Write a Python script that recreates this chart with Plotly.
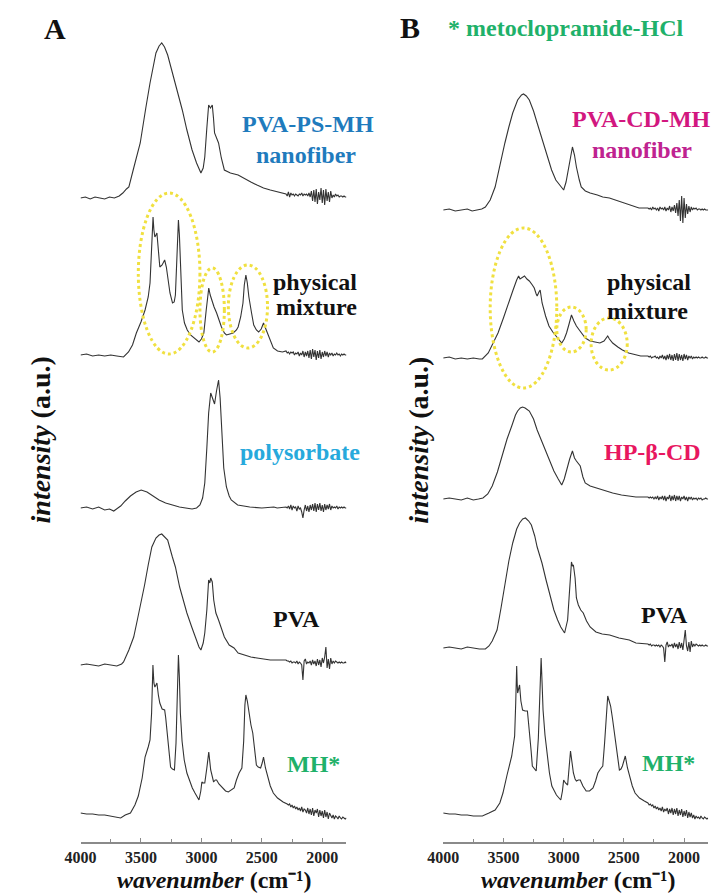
import plotly.graph_objects as go

# ---------------------------------------------------------------------------
# FTIR spectra (wavenumber in cm-1, intensity in arbitrary units above baseline)
# ---------------------------------------------------------------------------

# shared wavenumber grid for the noisy low-wavenumber tail
TAIL_WN = [2300, 2290, 2280, 2270, 2260, 2250, 2240, 2230, 2220, 2210,
           2200, 2190, 2180, 2170, 2160, 2150, 2140, 2130, 2120, 2110,
           2100, 2090, 2080, 2070, 2060, 2050, 2040, 2030, 2020, 2010,
           2000, 1990, 1980, 1970, 1960, 1950, 1940, 1930, 1920, 1910,
           1900, 1890, 1880, 1870, 1860, 1850, 1840, 1830, 1820, 1810, 1800]

# ---- Panel A -------------------------------------------------------------
A_NANOFIBER_WN = [4000, 3960, 3920, 3880, 3840, 3800, 3760, 3720, 3680, 3650, 3620, 3600, 3560,
                  3506, 3460, 3425, 3376, 3350, 3328, 3305, 3279, 3250, 3215, 3185, 3158, 3120,
                  3077, 3040, 3004, 2985, 2972, 2955, 2940, 2925, 2910, 2900, 2891, 2858, 2835,
                  2810, 2760, 2696, 2640, 2591, 2540, 2486, 2430, 2373, 2330]
A_NANOFIBER_I = [0, 1, -1, 1, 0, -1, 1, 0, 2, 5, 9, 11, 30,
                 55, 90, 115, 145, 152, 155, 151, 143, 130, 115, 102, 88, 68,
                 48, 35, 25, 30, 41, 70, 93, 90, 93, 80, 65, 55, 40,
                 28, 25, 23, 19, 16, 13, 10, 8, 6, 5]
A_NANOFIBER_TAIL = [4, 2, 6, 1, 5, 3, 4, 2, 4, 3, 2, 4, 3, 5, 2, 4, 3, 4, 2, 5,
                    1, 7, -3, 8, -4, 9, -6, 6, -2, 10, -5, 8, -7, 9, -3, 6, -4, 7, 0, 3,
                    1, 4, 2, 3, 1, 2, 2, 1, 2, 1, 1]

A_MIXTURE_WN = [4000, 3950, 3900, 3850, 3800, 3750, 3700, 3644, 3603, 3570, 3538, 3500, 3466,
                3440, 3425, 3410, 3400, 3393, 3385, 3376, 3368, 3356, 3344, 3325, 3304, 3290,
                3279, 3260, 3239, 3225, 3215, 3203, 3190, 3182, 3174, 3165, 3158, 3140, 3117,
                3090, 3061, 3020, 3000, 2980, 2960, 2945, 2939, 2927, 2915, 2895, 2874, 2850,
                2834, 2810, 2793, 2765, 2737, 2710, 2696, 2675, 2656, 2645, 2632, 2620, 2607,
                2585, 2567, 2545, 2526, 2505, 2486, 2470, 2453, 2430, 2405, 2370, 2330]
A_MIXTURE_I = [0, 1, -1, 0, -1, 0, -1, -2, 3, 10, 22, 33, 45,
               58, 72, 105, 138, 125, 118, 120, 122, 105, 88, 90, 95, 88,
               78, 62, 52, 53, 60, 100, 135, 120, 100, 70, 45, 32, 25,
               20, 17, 13, 16, 22, 45, 62, 67, 60, 55, 48, 42, 33,
               28, 22, 20, 21, 22, 25, 28, 38, 52, 70, 80, 72, 58,
               42, 30, 25, 23, 26, 32, 27, 22, 14, 7, 4, 3]
A_MIXTURE_TAIL = [4, 2, 3, 1, 3, 2, 3, 0, 2, 1, 3, -1, 2, 0, 4, -2, 3, -1, 4, -3,
                  5, -4, 6, -2, 5, -5, 4, -3, 5, -4, 3, -2, 4, -1, 3, -2, 2, 0, 2, -1,
                  1, 0, 2, 0, 1, -1, 1, 0, 1, 0, 0]

A_POLYSORBATE_WN = [4000, 3950, 3900, 3850, 3800, 3760, 3725, 3700, 3668, 3630, 3587, 3540, 3498,
                    3450, 3401, 3350, 3296, 3240, 3182, 3130, 3077, 3040, 3012, 2990, 2972, 2955,
                    2940, 2923, 2910, 2891, 2875, 2858, 2845, 2830, 2815, 2793, 2770, 2753, 2700,
                    2650, 2600, 2500, 2400, 2373, 2330]
A_POLYSORBATE_I = [0, 1, -1, 1, -2, -1, -3, -1, 2, 7, 12, 16, 18,
                   16, 12, 8, 5, 3, 1, 0, -1, 0, 3, 10, 25, 60,
                   95, 115, 110, 104, 117, 128, 110, 70, 40, 21, 12, 8, 3,
                   2, 1, 0, 1, 0, 1]
A_POLYSORBATE_TAIL = [1, 0, 2, -1, 3, -2, 2, 0, 1, -3, 2, -1, 0, -4, -10, -2, 3, -3, 2, -4,
                      3, -2, 4, -3, 5, -4, 4, -2, 5, -3, 3, -4, 4, -2, 3, -1, 4, -2, 2, 0,
                      1, 0, 2, -1, 1, 0, 1, 0, 1, 0, 0]

A_PVA_WN = [4000, 3950, 3900, 3850, 3800, 3750, 3700, 3660, 3644, 3600, 3560, 3530, 3506,
            3470, 3440, 3410, 3376, 3350, 3328, 3300, 3279, 3240, 3215, 3180, 3150, 3120,
            3080, 3050, 3020, 3004, 2985, 2972, 2955, 2940, 2930, 2923, 2910, 2898, 2880,
            2858, 2830, 2810, 2770, 2730, 2696, 2640, 2591, 2540, 2486, 2430, 2373, 2330]
A_PVA_I = [0, 1, 0, -1, 1, 0, -1, 1, 3, 15, 28, 45, 58,
           80, 100, 118, 127, 130, 131, 128, 125, 108, 98, 78, 65, 52,
           38, 28, 18, 15, 22, 32, 55, 85, 82, 87, 83, 65, 52,
           45, 35, 28, 20, 17, 12, 10, 8, 7, 6, 5, 5, 5]
A_PVA_TAIL = [5, 4, 4, 3, 4, 2, 3, 3, 2, 4, 1, 3, 2, 0, -15, 4, 6, 1, 3, 2,
              4, 0, 5, 1, 4, -1, 6, 0, 5, -2, 7, 2, 8, 18, -3, 6, -4, 7, 1, 4,
              2, 4, 3, 2, 3, 2, 3, 2, 2, 3, 2]

A_MH_WN = [4000, 3950, 3900, 3850, 3800, 3750, 3700, 3668, 3630, 3587, 3550, 3522, 3490,
           3466, 3440, 3425, 3412, 3401, 3393, 3385, 3376, 3368, 3356, 3344, 3325, 3304,
           3295, 3287, 3270, 3255, 3240, 3223, 3210, 3200, 3190, 3182, 3174, 3160, 3142,
           3120, 3101, 3075, 3053, 3020, 3005, 2996, 2985, 2972, 2955, 2939, 2923, 2910,
           2899, 2885, 2874, 2855, 2834, 2800, 2777, 2750, 2729, 2710, 2688, 2665, 2650,
           2640, 2632, 2620, 2607, 2590, 2575, 2560, 2545, 2530, 2510, 2497, 2486, 2470,
           2453, 2430, 2405, 2370, 2324]
A_MH_I = [0, -1, -1, -2, -2, -3, -4, -5, -2, 0, 8, 17, 35,
          56, 66, 73, 100, 148, 130, 126, 128, 130, 118, 110, 104, 103,
          95, 86, 62, 46, 44, 43, 70, 120, 158, 135, 100, 72, 53,
          40, 33, 25, 20, 13, 22, 31, 30, 30, 45, 61, 43, 35,
          31, 33, 33, 29, 26, 22, 21, 23, 25, 33, 40, 45, 72,
          108, 118, 112, 100, 88, 80, 62, 48, 46, 45, 50, 56, 45,
          36, 27, 20, 15, 11]
A_MH_TAIL = [10, 9, 8, 9, 6, 8, 5, 7, 4, 6, 3, 5, 2, 6, 1, 4, 3, 0, 5, -1,
             4, -2, 5, -3, 3, 0, 4, -4, 3, -3, 2, -5, 3, -4, 1, -6, 0, -3, -5, -2,
             -6, -3, -4, -6, -3, -5, -6, -4, -5, -6, -5]

# ---- Panel B -------------------------------------------------------------
B_NANOFIBER_WN = [4000, 3950, 3900, 3850, 3800, 3760, 3707, 3680, 3650, 3610, 3569, 3530, 3488,
                  3455, 3423, 3382, 3350, 3333, 3310, 3285, 3250, 3220, 3180, 3146, 3100, 3065,
                  3030, 3000, 2980, 2959, 2940, 2927, 2910, 2894, 2870, 2854, 2820, 2780, 2720,
                  2675, 2620, 2569, 2510, 2455, 2410, 2374, 2330]
B_NANOFIBER_I = [0, 1, -1, 0, 1, -1, 0, 1, 3, 10, 23, 45, 67,
                 83, 97, 110, 115, 116, 114, 110, 99, 87, 72, 57, 40, 30,
                 24, 20, 28, 43, 58, 63, 55, 43, 30, 23, 19, 17, 15,
                 13, 12, 10, 7, 5, 3, 2, 2]
B_NANOFIBER_TAIL = [2, 1, 2, 0, 3, 1, 2, 0, 2, -1, 3, 1, 2, 0, 3, -1, 2, 0, 4, -2,
                    3, -1, 5, -3, 7, -6, 10, -11, 14, -13, 12, -8, 6, -4, 4, -2, 3, 0, 2, 1,
                    2, 0, 1, 1, 0, 1, 0, 1, 0, 0, 0]

B_MIXTURE_WN = [4000, 3950, 3900, 3850, 3800, 3750, 3700, 3675, 3626, 3590, 3545, 3500, 3463,
                3420, 3390, 3374, 3362, 3350, 3325, 3305, 3285, 3260, 3244, 3228, 3220, 3205,
                3195, 3185, 3179, 3150, 3122, 3090, 3065, 3040, 3016, 2995, 2976, 2955, 2935,
                2915, 2894, 2870, 2854, 2820, 2780, 2740, 2699, 2665, 2645, 2634, 2620, 2593,
                2550, 2512, 2460, 2407, 2360, 2330]
B_MIXTURE_I = [0, 1, -1, 0, -1, 0, -1, -1, 5, 14, 25, 40, 52,
               68, 78, 82, 79, 80, 82, 79, 77, 73, 70, 64, 62, 66,
               68, 60, 55, 42, 32, 26, 22, 18, 15, 19, 25, 34, 43,
               37, 32, 28, 25, 20, 17, 16, 15, 17, 21, 22, 19, 15,
               11, 8, 5, 3, 2, 2]
B_MIXTURE_TAIL = [2, 1, 2, 0, 1, 1, 2, 0, 1, -1, 2, 0, 3, -1, 2, -2, 3, -1, 4, -2,
                  3, -3, 4, -2, 5, -3, 4, -2, 3, -3, 4, -1, 3, -2, 2, 0, 2, -1, 1, 0,
                  1, 0, 1, 0, 0, 1, 0, 0, 1, 0, 0]

B_HPBCD_WN = [4000, 3950, 3900, 3850, 3800, 3750, 3707, 3670, 3630, 3593, 3550, 3512, 3470,
              3431, 3400, 3382, 3360, 3341, 3320, 3285, 3250, 3220, 3180, 3146, 3110, 3081,
              3045, 3016, 2995, 2976, 2950, 2927, 2910, 2894, 2878, 2862, 2840, 2821, 2780,
              2732, 2660, 2593, 2520, 2455, 2400, 2330]
B_HPBCD_I = [0, 1, 0, -1, 1, -1, 0, 1, 5, 13, 27, 43, 60,
             73, 84, 88, 91, 92, 91, 88, 80, 69, 57, 46, 36, 28,
             20, 14, 20, 29, 40, 48, 41, 38, 35, 33, 22, 16, 13,
             11, 8, 6, 4, 3, 2, 2]
B_HPBCD_TAIL = [2, 1, 2, 1, 2, 0, 2, 0, 3, -1, 2, 0, 3, -1, 3, -2, 2, 0, 4, -2,
                3, -1, 4, -2, 3, -1, 3, -2, 2, 0, 3, -1, 2, -2, 2, 0, 2, -1, 1, 0,
                1, -1, 1, 0, 1, -1, 0, 0, 1, 0, 0]

B_PVA_WN = [4000, 3950, 3900, 3850, 3800, 3750, 3700, 3650, 3620, 3593, 3553, 3520, 3488,
            3455, 3423, 3390, 3366, 3340, 3317, 3290, 3268, 3240, 3220, 3180, 3146, 3110,
            3081, 3050, 3024, 2992, 2980, 2967, 2955, 2942, 2935, 2927, 2919, 2905, 2894,
            2878, 2858, 2837, 2810, 2780, 2732, 2680, 2618, 2540, 2455, 2400, 2330]
B_PVA_I = [0, 1, 0, -1, 1, 0, -1, -1, 2, 7, 18, 40, 65,
           87, 105, 119, 125, 129, 130, 127, 123, 112, 101, 85, 68, 52,
           38, 28, 21, 15, 20, 28, 50, 80, 86, 82, 83, 70, 50,
           43, 38, 35, 27, 21, 16, 14, 13, 10, 8, 5, 4]
B_PVA_TAIL = [4, 3, 4, 2, 3, 3, 2, 3, 2, 3, 1, 3, 2, 0, -14, 3, 6, 1, 3, 2,
              4, 0, 5, 1, 4, -1, 6, 0, 5, -2, 6, 18, 2, -3, 6, -4, 7, 1, 4, 2,
              4, 3, 2, 3, 2, 3, 2, 2, 3, 2, 2]

B_MH_WN = [4000, 3950, 3900, 3850, 3800, 3750, 3700, 3675, 3620, 3569, 3530, 3504, 3470,
           3431, 3418, 3407, 3398, 3390, 3386, 3382, 3374, 3366, 3355, 3341, 3320, 3301,
           3293, 3285, 3270, 3260, 3245, 3228, 3210, 3198, 3187, 3179, 3171, 3155, 3138,
           3118, 3098, 3060, 3024, 3010, 3000, 2985, 2967, 2955, 2943, 2930, 2919, 2905,
           2894, 2878, 2862, 2840, 2813, 2785, 2756, 2735, 2716, 2695, 2675, 2660, 2645,
           2634, 2622, 2610, 2595, 2577, 2557, 2537, 2524, 2512, 2500, 2488, 2470, 2455,
           2430, 2407, 2370, 2330]
B_MH_I = [0, -1, -1, -2, -2, -3, -3, -3, 0, 3, 10, 20, 38,
          57, 68, 77, 110, 147, 130, 120, 124, 128, 112, 103, 102, 102,
          92, 83, 62, 47, 44, 42, 75, 125, 155, 130, 103, 78, 57,
          40, 27, 18, 13, 22, 33, 30, 28, 45, 62, 50, 40, 34,
          32, 33, 33, 27, 22, 22, 25, 32, 40, 44, 47, 70, 105,
          117, 112, 107, 95, 80, 60, 43, 44, 47, 52, 57, 45, 37,
          27, 20, 15, 12]
B_MH_TAIL = [10, 8, 9, 7, 8, 5, 7, 4, 6, 3, 5, 2, 6, 1, 4, 2, 5, -1, 4, 0,
             5, -2, 4, -1, 5, -3, 3, -2, 4, -4, 2, -3, 3, -5, 1, -4, 0, -5, -2, -6,
             -3, -5, -4, -6, -3, -5, -6, -4, -5, -6, -5]

# vertical stacking offsets of the traces (top to bottom)
STACK_A = [644, 487, 334, 177, 29]
STACK_B = [632, 484, 343, 194, 29]

SPECTRA_A = [
    (A_NANOFIBER_WN, A_NANOFIBER_I, A_NANOFIBER_TAIL),
    (A_MIXTURE_WN, A_MIXTURE_I, A_MIXTURE_TAIL),
    (A_POLYSORBATE_WN, A_POLYSORBATE_I, A_POLYSORBATE_TAIL),
    (A_PVA_WN, A_PVA_I, A_PVA_TAIL),
    (A_MH_WN, A_MH_I, A_MH_TAIL),
]
SPECTRA_B = [
    (B_NANOFIBER_WN, B_NANOFIBER_I, B_NANOFIBER_TAIL),
    (B_MIXTURE_WN, B_MIXTURE_I, B_MIXTURE_TAIL),
    (B_HPBCD_WN, B_HPBCD_I, B_HPBCD_TAIL),
    (B_PVA_WN, B_PVA_I, B_PVA_TAIL),
    (B_MH_WN, B_MH_I, B_MH_TAIL),
]

# highlighted regions of the physical-mixture spectra: (wn_start, wn_end, y_low, y_high)
REGIONS_A = [(3522, 3012, 488, 649), (3012, 2810, 490, 574), (2777, 2453, 494, 577)]
REGIONS_B = [(3610, 3057, 454, 614), (3057, 2813, 490, 535), (2772, 2472, 472, 524)]

# ---------------------------------------------------------------------------
W, H = 715, 895
TOP, BOTTOM = 30, 53
PLOT_H = H - TOP - BOTTOM
SERIF = "Liberation Serif, Times New Roman, serif"
LINE_COLOR = "#333333"
AXIS_COLOR = "#8a8a8a"
YELLOW = "#f0e040"

fig = go.Figure()

for spectra, offsets, xa, ya in ((SPECTRA_A, STACK_A, "x", "y"), (SPECTRA_B, STACK_B, "x2", "y2")):
    for (wn, inten, tail), off in zip(spectra, offsets):
        xs = list(wn) + TAIL_WN
        ys = [v + off for v in list(inten) + list(tail)]
        fig.add_trace(go.Scatter(x=xs, y=ys, mode="lines", xaxis=xa, yaxis=ya,
                                 line=dict(color=LINE_COLOR, width=1.1),
                                 hoverinfo="skip", showlegend=False))

for regions, xr, yr in ((REGIONS_A, "x", "y"), (REGIONS_B, "x2", "y2")):
    for x0, x1, y0, y1 in regions:
        fig.add_shape(type="circle", xref=xr, yref=yr, x0=x0, x1=x1, y0=y0, y1=y1,
                      line=dict(color=YELLOW, width=3, dash="dot"))

axis_common = dict(
    range=[4000, 1800], showline=True, linecolor=AXIS_COLOR, linewidth=1.5,
    ticks="inside", ticklen=4, tickcolor=AXIS_COLOR, tickwidth=1,
    tick0=0, dtick=500, showgrid=False, zeroline=False,
    tickfont=dict(family=SERIF, size=16, color="#222222", weight="bold"),
    minor=dict(ticks="inside", ticklen=3, dtick=250, tick0=0, tickcolor=AXIS_COLOR, showgrid=False),
)
yaxis_common = dict(range=[0, PLOT_H], visible=False, showgrid=False, zeroline=False)

fig.update_layout(
    width=W, height=H,
    margin=dict(l=0, r=0, t=TOP, b=BOTTOM),
    paper_bgcolor="white", plot_bgcolor="white",
    xaxis=dict(domain=[66 / W, 338 / W], anchor="y", **axis_common),
    xaxis2=dict(domain=[437 / W, 708 / W], anchor="y2", **axis_common),
    yaxis=dict(anchor="x", **yaxis_common),
    yaxis2=dict(anchor="x2", **yaxis_common),
)


def px(x, y):
    """Pixel position on the page -> paper coordinates."""
    return x / W, (H - BOTTOM - y) / PLOT_H


def label(text, x, y, size=24, color="#111111", angle=0):
    ax, ay = px(x, y)
    fig.add_annotation(x=ax, y=ay, xref="paper", yref="paper", text=text,
                       showarrow=False, xanchor="center", yanchor="middle",
                       textangle=angle, borderpad=0,
                       font=dict(family=SERIF, size=size, color=color))


BLUE = "#1f7bbd"
CYAN = "#27a9dc"
GREEN = "#1fb16a"
MAGENTA = "#d2177f"
PURPLE = "#bf2390"
PINK = "#e8175f"

# panel letters and legend note
label("<b>A</b>", 40, 29, size=30)
label("<b>B</b>", 403, 28, size=30)
label("<b>* metoclopramide-HCl</b>", 563, 28, size=24, color=GREEN)

# panel A trace labels
label("<b>PVA-PS-MH</b>", 299, 124, color=BLUE)
label("<b>nanofiber</b>", 297, 155, color=BLUE)
label("<b>physical</b>", 306, 282)
label("<b>mixture</b>", 307, 307)
label("<b>polysorbate</b>", 290, 452, color=CYAN)
label("<b>PVA</b>", 287, 619)
label("<b>MH*</b>", 304, 764, color=GREEN)

# panel B trace labels
label("<b>PVA-CD-MH</b>", 640, 119, color=MAGENTA)
label("<b>nanofiber</b>", 640, 150, color=PURPLE)
label("<b>physical</b>", 647, 282)
label("<b>mixture</b>", 646, 311)
label("<b>HP-β-CD</b>", 651, 452, color=PINK)
label("<b>PVA</b>", 663, 615)
label("<b>MH*</b>", 667, 763, color=GREEN)

# axis titles
for cx in (25, 411):
    label("<b><i>intensity</i> (a.u.)</b>", cx, 440, size=28, angle=-90)
for cx in (203, 575):
    label("<b><i>wavenumber</i> (cm⁻¹)</b>", cx, 880, size=24)

fig.write_html("out.html")
